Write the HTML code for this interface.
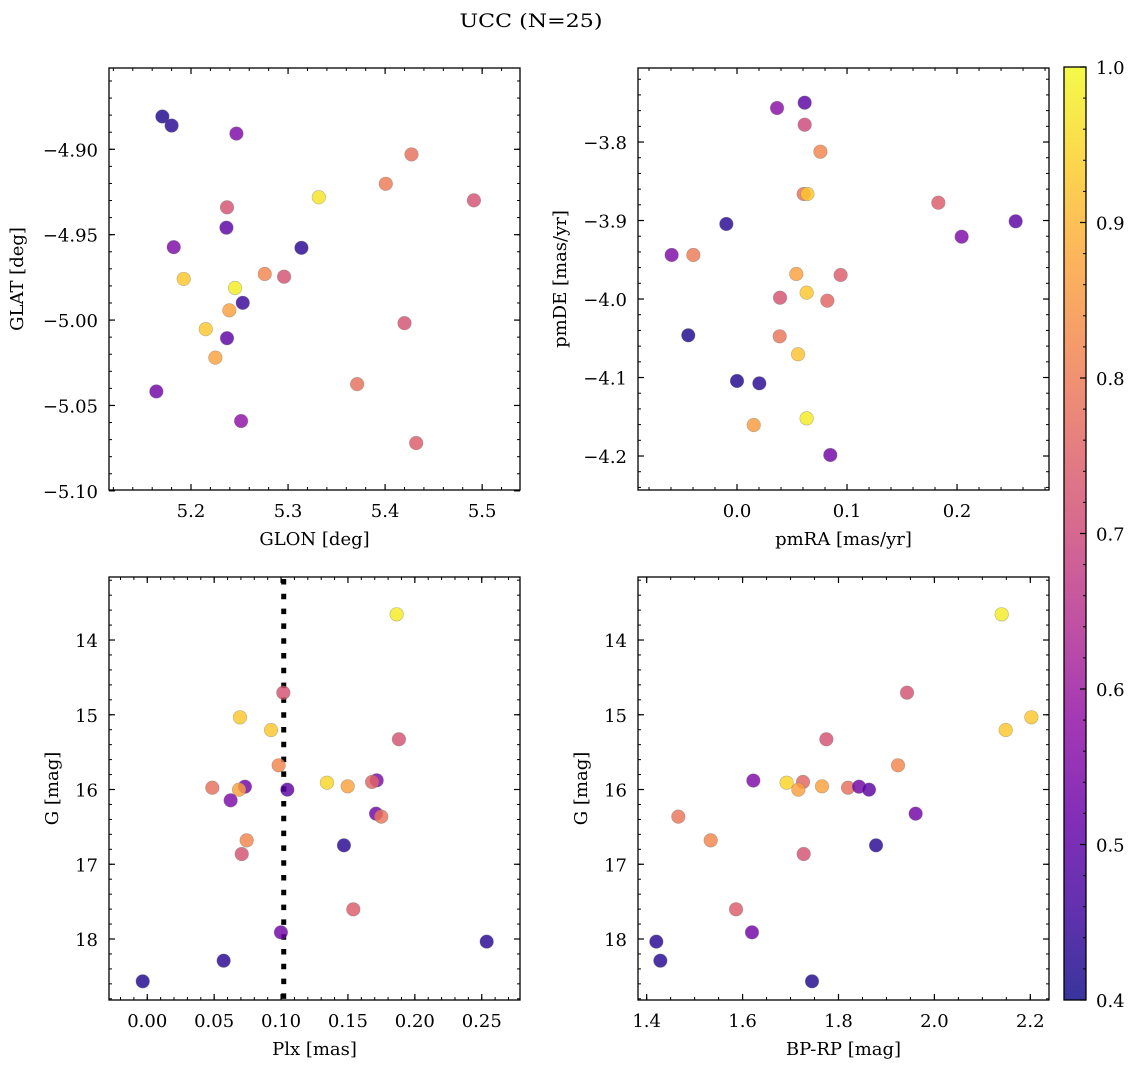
<!DOCTYPE html>
<html><head><meta charset="utf-8">
<style>
html,body{margin:0;padding:0;background:#fff;}
svg{display:block;font-family:"DejaVu Serif","Liberation Serif",serif;}
</style></head>
<body>
<svg id="fig" width="1136" height="1067" viewBox="0 0 1136 1067" xmlns="http://www.w3.org/2000/svg">
<defs>
<linearGradient id="cbgrad" x1="0" y1="1" x2="0" y2="0"></linearGradient>
</defs>
<text x="531" y="27" font-size="19" text-anchor="middle" textLength="143" lengthAdjust="spacingAndGlyphs">UCC (N=25)</text>
</svg>
<script>
// ---------- data ----------
// Panel 1: GLON vs GLAT
const glon = [5.1705,5.180,5.2468,5.4272,5.4007,5.3317,5.4915,5.2371,5.2365,5.1822,5.3138,5.1925,5.276,5.2959,5.2454,5.2533,5.2395,5.2152,5.2371,5.2251,5.42,5.1643,5.3712,5.2516,5.432];
const glat = [-4.8808,-4.8861,-4.8908,-4.9030,-4.9202,-4.9281,-4.9299,-4.9340,-4.9459,-4.9573,-4.9577,-4.9759,-4.9730,-4.9746,-4.9812,-4.9899,-4.9943,-5.0053,-5.0106,-5.022,-5.0018,-5.0418,-5.0375,-5.0591,-5.072];
const probA = [0.42,0.43,0.55,0.78,0.80,0.97,0.72,0.72,0.50,0.55,0.43,0.93,0.82,0.72,0.98,0.45,0.87,0.93,0.50,0.87,0.72,0.53,0.78,0.58,0.74];
// Panel 2: pmRA vs pmDE
const pmra = [0.0364,0.0615,0.0615,0.0758,0.0606,0.064,0.183,0.2533,0.2042,-0.0097,-0.0594,-0.0397,0.0539,0.0942,0.0633,0.0391,0.0821,-0.0443,0.0388,0.0555,0.0,0.0203,0.0152,0.0633,0.0848];
const pmde = [-3.7567,-3.7499,-3.7779,-3.8123,-3.8662,-3.8662,-3.8773,-3.901,-3.9206,-3.9044,-3.9439,-3.9439,-3.9681,-3.9694,-3.9919,-3.9983,-4.0021,-4.0462,-4.0475,-4.0704,-4.1044,-4.1074,-4.1605,-4.152,-4.1987];
const probB = [0.57,0.50,0.70,0.82,0.78,0.93,0.74,0.50,0.55,0.43,0.55,0.80,0.87,0.74,0.93,0.72,0.76,0.42,0.79,0.92,0.42,0.43,0.86,0.98,0.53];
// Panel 3: Plx vs G
const plx = [0.1864,0.1017,0.0693,0.0925,0.1881,0.0982,0.1343,0.1498,0.1715,0.168,0.0486,0.073,0.0686,0.1047,0.0623,0.171,0.1749,0.0743,0.0706,0.147,0.154,0.0999,0.2537,0.0571,-0.0034];
const gmagC = [13.656,14.705,15.034,15.204,15.328,15.676,15.909,15.957,15.877,15.899,15.976,15.962,16.002,16.002,16.145,16.323,16.363,16.68,16.863,16.747,17.603,17.911,18.035,18.29,18.566];
const probC = [0.98,0.72,0.93,0.93,0.72,0.82,0.95,0.87,0.55,0.76,0.78,0.53,0.87,0.50,0.55,0.53,0.79,0.82,0.72,0.43,0.74,0.53,0.43,0.43,0.42];
const plxLine = [0.102];
// Panel 4: BP-RP vs G
const bprp = [2.1403,1.9429,2.2022,2.1487,1.7747,1.9241,1.6919,1.7656,1.6224,1.726,1.8199,1.8428,1.7163,1.8636,1.9609,1.466,1.5335,1.7274,1.8783,1.5863,1.6196,1.4201,1.4285,1.7448];
const gmagD = [13.656,14.705,15.034,15.204,15.328,15.676,15.909,15.957,15.88,15.899,15.976,15.962,16.002,16.002,16.323,16.363,16.68,16.863,16.747,17.603,17.911,18.035,18.29,18.566];
const probD = [0.98,0.72,0.93,0.93,0.72,0.82,0.95,0.87,0.55,0.76,0.78,0.53,0.87,0.50,0.53,0.79,0.82,0.72,0.43,0.74,0.53,0.43,0.43,0.42];
// tick labels
const ticks1x = [5.2,5.3,5.4,5.5];
const ticks1y = [-4.90,-4.95,-5.00,-5.05,-5.10];
const ticks2x = [0.0,0.1,0.2];
const ticks2y = [-3.8,-3.9,-4.0,-4.1,-4.2];
const ticks3x = [0.00,0.05,0.10,0.15,0.20,0.25];
const ticksG = [14,15,16,17,18];
const ticks4x = [1.4,1.6,1.8,2.0,2.2];
const ticksCb = [0.4,0.5,0.6,0.7,0.8,0.9,1.0];

const NS = "http://www.w3.org/2000/svg";
const svg = document.getElementById('fig');
const VMIN = 0.4, VMAX = 1.0;
const FS = 18;
const plasma = [[13,8,135],[65,4,157],[106,0,168],[143,13,164],[177,42,144],[204,71,120],[225,100,98],[242,132,75],[252,166,54],[252,206,37],[240,249,33]];
function cmap(v){
  let t = Math.max(0, Math.min(1, (v - VMIN) / (VMAX - VMIN))) * 10;
  let i = Math.min(9, Math.floor(t)), f = t - i;
  const a = plasma[i], b = plasma[i+1];
  return 'rgb(' + [0,1,2].map(k => Math.round(a[k] + (b[k]-a[k])*f)).join(',') + ')';
}
function mk(tag, attrs, parent){
  const e = document.createElementNS(NS, tag);
  for (const k in attrs) e.setAttribute(k, attrs[k]);
  (parent || svg).appendChild(e);
  return e;
}
function fmt(v, d){ const s = Math.abs(v).toFixed(d); return (v < 0 ? '\u2212' : '') + s; }

function panel(o){
  const g = mk('g', {});
  
  
  const sx = v => o.x0 + (v - o.xmin) / (o.xmax - o.xmin) * (o.x1 - o.x0);
  const sy = o.invert ? (v => o.y0 + (v - o.ymin) / (o.ymax - o.ymin) * (o.y1 - o.y0))
                      : (v => o.y1 - (v - o.ymin) / (o.ymax - o.ymin) * (o.y1 - o.y0));
  const start = Math.ceil(o.xmin / o.xminor - 1e-9);
  for (let k = start; k * o.xminor <= o.xmax + 1e-9; k++){
    const px = sx(k * o.xminor);
    mk('line', {x1:px, x2:px, y1:o.y1, y2:o.y1-3, stroke:'#000','stroke-width':1}, g);
    mk('line', {x1:px, x2:px, y1:o.y0, y2:o.y0+3, stroke:'#000','stroke-width':1}, g);
  }
  const lo = Math.min(o.ymin,o.ymax), hi = Math.max(o.ymin,o.ymax);
  for (let k = Math.ceil(lo / o.yminor - 1e-9); k * o.yminor <= hi + 1e-9; k++){
    const py = sy(k * o.yminor);
    mk('line', {x1:o.x0, x2:o.x0+3, y1:py, y2:py, stroke:'#000','stroke-width':1}, g);
    mk('line', {x1:o.x1, x2:o.x1-3, y1:py, y2:py, stroke:'#000','stroke-width':1}, g);
  }
  o.xt.forEach(v => {
    const px = sx(v);
    mk('line', {x1:px, x2:px, y1:o.y1, y2:o.y1-6, stroke:'#000','stroke-width':1.2}, g);
    mk('line', {x1:px, x2:px, y1:o.y0, y2:o.y0+6, stroke:'#000','stroke-width':1.2}, g);
    const t = mk('text', {x:px, y:o.y1+27, 'font-size':FS, 'text-anchor':'middle'}, g);
    
    
    t.textContent = fmt(v, o.xd);
  });
  o.yt.forEach(v => {
    const py = sy(v);
    mk('line', {x1:o.x0, x2:o.x0+6, y1:py, y2:py, stroke:'#000','stroke-width':1.2}, g);
    mk('line', {x1:o.x1, x2:o.x1-6, y1:py, y2:py, stroke:'#000','stroke-width':1.2}, g);
    const t = mk('text', {x:o.x0-11, y:py+7, 'font-size':FS, 'text-anchor':'end'}, g);
    
    
    t.textContent = fmt(v, o.yd);
  });
  if (o.vline !== undefined){
    const px = sx(o.vline);
    const l = mk('line', {x1:px, x2:px, y1:o.y0+2, y2:o.y1, stroke:'#000','stroke-width':5,'stroke-dasharray':'5.5,9.3'}, g);
    
    
  }
  for (let i = 0; i < o.xs.length; i++){
    const c = mk('circle', {cx:sx(o.xs[i]), cy:sy(o.ys[i]), r:6.8, fill:cmap(o.cs[i]), 'fill-opacity':0.82, stroke:'#777', 'stroke-opacity':0.5, 'stroke-width':0.6}, g);
    
    
  }
  mk('rect', {x:o.x0, y:o.y0, width:o.x1-o.x0, height:o.y1-o.y0, fill:'none', stroke:'#000','stroke-width':1.3}, g);
  const xl = mk('text', {x:(o.x0+o.x1)/2, y:o.y1+55, 'font-size':FS, 'text-anchor':'middle'}, g);
  
  
  xl.textContent = o.xlabel;
  const yx = o.ylx, yy = (o.y0+o.y1)/2;
  const yl = mk('text', {x:yx, y:yy, 'font-size':FS, 'text-anchor':'middle', transform:'rotate(-90 '+yx+' '+yy+')'}, g);
  
  
  yl.textContent = o.ylabel;
}

panel({name:'glon-glat-panel', x0:109,x1:520,y0:68,y1:490, xmin:5.1155,xmax:5.539, ymin:-5.0995,ymax:-4.8524,
  xt:ticks1x, yt:ticks1y, xd:1, yd:2, xminor:0.02, yminor:0.01, xs:glon, ys:glat, cs:probA,
  xlabel:'GLON [deg]', ylabel:'GLAT [deg]', ylx:23});
panel({name:'proper-motion-panel', x0:638,x1:1049,y0:68,y1:490, xmin:-0.09,xmax:0.2836, ymin:-4.2433,ymax:-3.7057,
  xt:ticks2x, yt:ticks2y, xd:1, yd:1, xminor:0.02, yminor:0.02, xs:pmra, ys:pmde, cs:probB,
  xlabel:'pmRA [mas/yr]', ylabel:'pmDE [mas/yr]', ylx:566});
panel({name:'plx-g-panel', x0:109,x1:520,y0:577,y1:1000, xmin:-0.0286,xmax:0.2786, ymin:13.157,ymax:18.816, invert:true,
  xt:ticks3x, yt:ticksG, xd:2, yd:0, xminor:0.01, yminor:0.2, xs:plx, ys:gmagC, cs:probC, vline:plxLine[0],
  xlabel:'Plx [mas]', ylabel:'G [mag]', ylx:58});
panel({name:'cmd-panel', x0:638,x1:1049,y0:577,y1:1000, xmin:1.3819,xmax:2.239, ymin:13.157,ymax:18.816, invert:true,
  xt:ticks4x, yt:ticksG, xd:1, yd:0, xminor:0.05, yminor:0.2, xs:bprp, ys:gmagD, cs:probD,
  xlabel:'BP-RP [mag]', ylabel:'G [mag]', ylx:587});

// colorbar
const grad = document.getElementById('cbgrad');
for (let i = 0; i <= 20; i++){
  const v = VMIN + (VMAX - VMIN) * i / 20;
  mk('stop', {offset:(i/20), 'stop-color':cmap(v)}, grad);
}
const cb = mk('g', {});


const cx0 = 1064, cx1 = 1086, cy0 = 67, cy1 = 1000;
const cby = v => cy1 - (v - VMIN) / (VMAX - VMIN) * (cy1 - cy0);
mk('rect', {x:cx0, y:cy0, width:cx1-cx0, height:cy1-cy0, fill:'url(#cbgrad)', 'fill-opacity':0.82}, cb);
for (let k = 20; k <= 50; k++){
  const py = cby(k * 0.02);
  mk('line', {x1:cx1, x2:cx1-3, y1:py, y2:py, stroke:'#000','stroke-width':1}, cb);
}
ticksCb.forEach(v => {
  const py = cby(v);
  mk('line', {x1:cx1, x2:cx1-6, y1:py, y2:py, stroke:'#000','stroke-width':1.2}, cb);
  const t = mk('text', {x:cx1+10, y:py+7, 'font-size':FS}, cb);
  
  
  t.textContent = v.toFixed(1);
});
mk('rect', {x:cx0, y:cy0, width:cx1-cx0, height:cy1-cy0, fill:'none', stroke:'#000','stroke-width':1.3}, cb);
</script>
</body></html>
